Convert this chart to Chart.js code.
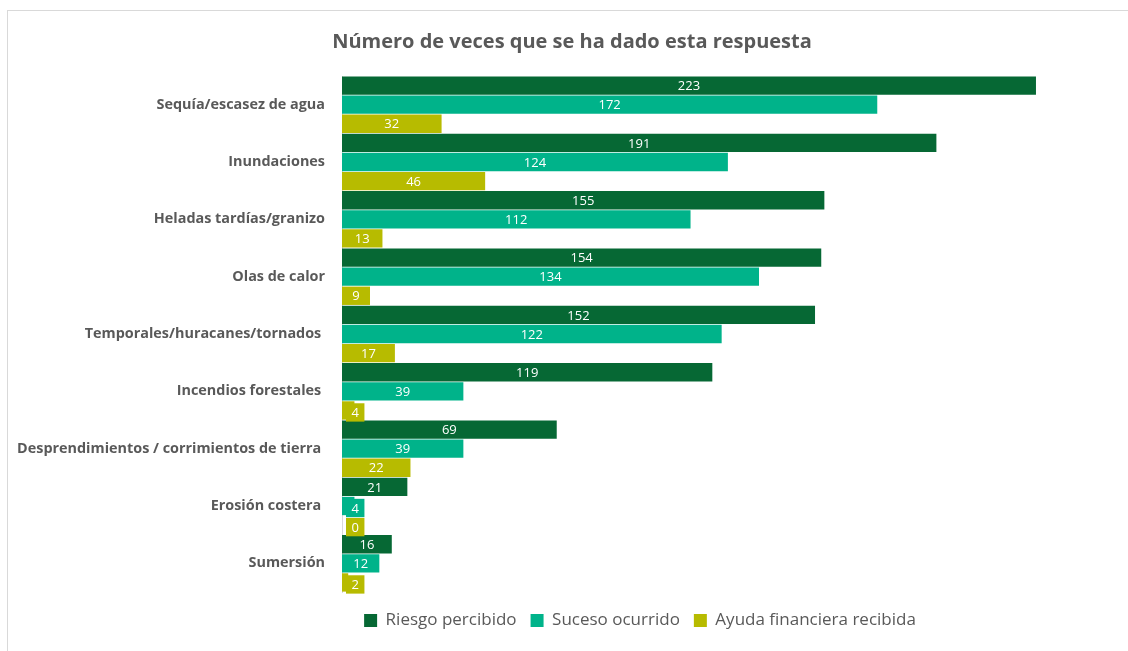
<!DOCTYPE html>
<html lang="es">
<head>
    <meta charset="UTF-8">
    <title>Número de veces que se ha dado esta respuesta</title>
    <style>
        html, body { margin: 0; padding: 0; background: #fff; }
        .frame { position: absolute; left: 7px; top: 10px; width: 1125px; height: 645px; border: 1px solid #d9d9d9; box-sizing: border-box; }
        .wrap { position: absolute; left: 0; top: 0; width: 1128px; height: 651px; }
    </style>
</head>
<body>
    <div class="frame"></div>
    <div class="wrap"><canvas id="chart" width="1128" height="651"></canvas></div>
    <script src="https://cdn.jsdelivr.net/npm/chart.js"></script>
    <script>
        const categories = [
            'Sequía/escasez de agua',
            'Inundaciones',
            'Heladas tardías/granizo',
            'Olas de calor',
            'Temporales/huracanes/tornados ',
            'Incendios forestales ',
            'Desprendimientos / corrimientos de tierra ',
            'Erosión costera ',
            'Sumersión'
        ];
        const riesgoPercibido = [223, 191, 155, 154, 152, 119, 69, 21, 16];
        const sucesoOcurrido = [172, 124, 112, 134, 122, 39, 39, 4, 12];
        const ayudaRecibida = [32, 46, 13, 9, 17, 4, 22, 0, 2];

        const FONT = '"Open Sans"';
        const GREY = '#595959';

        // etiquetas de datos dentro de las barras (como en Excel)
        const barLabels = {
            id: 'barLabels',
            afterDatasetsDraw(chart) {
                const ctx = chart.ctx;
                ctx.save();
                ctx.font = '13px ' + FONT;
                ctx.textBaseline = 'middle';
                ctx.textAlign = 'center';
                chart.data.datasets.forEach((ds, i) => {
                    const meta = chart.getDatasetMeta(i);
                    meta.data.forEach((bar, j) => {
                        const txt = String(ds.data[j]);
                        const tw = ctx.measureText(txt).width;
                        const w = bar.x - bar.base;
                        let cx = (bar.x + bar.base) / 2;
                        let cy = bar.y;
                        if (tw + 8 > w) {
                            const bw = tw + 11, bh = bar.height;
                            const bx = bar.base + 4, by = bar.y - bh / 2 + 2;
                            ctx.fillStyle = ds.backgroundColor;
                            ctx.fillRect(bx, by, bw, bh);
                            cx = bx + bw / 2;
                            cy = by + bh / 2;
                        }
                        ctx.fillStyle = '#ffffff';
                        ctx.fillText(txt, cx, cy + 1);
                    });
                });
                ctx.restore();
            }
        };

        // título y leyenda un poco desplazados, como en el original
        const nudge = {
            id: 'nudge',
            afterLayout(chart) {
                chart.titleBlock.left += 12;
                chart.titleBlock.right += 12;
                chart.legend.left += 160;
                chart.legend.top += 6;
                chart.legend.bottom += 6;
            }
        };

        const ctx = document.getElementById('chart').getContext('2d');
        const chart = new Chart(ctx, {
            type: 'bar',
            data: {
                labels: categories,
                datasets: [
                    { label: 'Riesgo percibido', data: riesgoPercibido, backgroundColor: '#066834' },
                    { label: 'Suceso ocurrido', data: sucesoOcurrido, backgroundColor: '#00B38A' },
                    { label: 'Ayuda financiera recibida', data: ayudaRecibida, backgroundColor: '#B7BB00' }
                ]
            },
            options: {
                indexAxis: 'y',
                responsive: false,
                animation: false,
                layout: { padding: { left: 0, right: 8, top: 30, bottom: 18 } },
                datasets: {
                    bar: { categoryPercentage: 1.0, barPercentage: 0.96, borderWidth: 0 }
                },
                scales: {
                    x: { display: false, min: 0, max: 250 },
                    y: {
                        grid: { display: false, drawTicks: false },
                        border: { display: true, color: '#d9d9d9', width: 1 },
                        ticks: { color: GREY, padding: 17, font: { family: FONT, size: 14.4, weight: 'bold' } },
                        afterFit(scale) { scale.width = 342; }
                    }
                },
                plugins: {
                    title: {
                        display: true,
                        text: 'Número de veces que se ha dado esta respuesta',
                        color: GREY,
                        font: { family: FONT, size: 20, weight: 'bold' },
                        padding: { top: 0, bottom: 22 }
                    },
                    legend: {
                        position: 'bottom',
                        labels: {
                            color: GREY,
                            boxWidth: 13,
                            boxHeight: 13,
                            padding: 14,
                            font: { family: FONT, size: 17 }
                        }
                    },
                    tooltip: { enabled: false }
                }
            },
            plugins: [barLabels, nudge]
        });
    </script>
</body>
</html>
